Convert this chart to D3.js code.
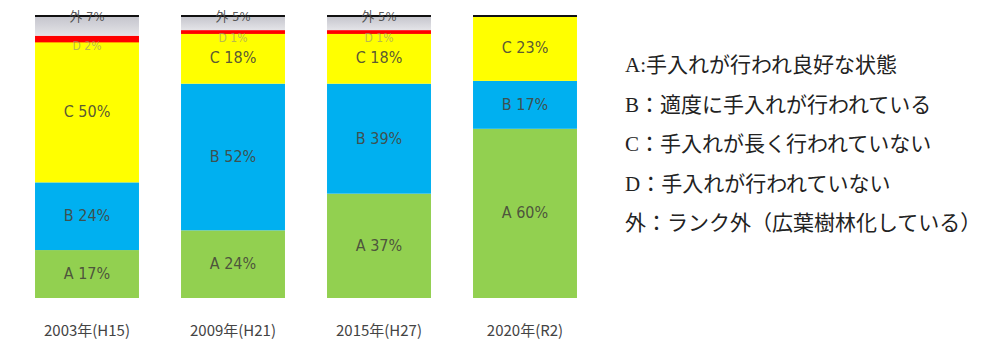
<!DOCTYPE html>
<html><head><meta charset="utf-8">
<script src="https://cdn.jsdelivr.net/npm/d3@7/dist/d3.min.js"></script>
<style>body{margin:0;background:#fff}svg{display:block}</style>
</head><body><div id="chart"></div>
<script>
const categories = ["2003年(H15)", "2009年(H21)", "2015年(H27)", "2020年(R2)"];
const seriesKeys = ["A", "B", "C", "D", "外"];
const valuesA = [17, 24, 37, 60];
const valuesB = [24, 52, 39, 17];
const valuesC = [50, 18, 18, 23];
const valuesD = [2, 1, 1, 0];
const valuesOut = [7, 5, 5, 0];
const legendLabels = [
  "A:手入れが行われ良好な状態",
  "B：適度に手入れが行われている",
  "C：手入れが長く行われていない",
  "D：手入れが行われていない",
  "外：ランク外（広葉樹林化している）"
];

const W = 982, H = 341;
const svg = d3.select("#chart").append("svg").attr("width", W).attr("height", H);
const defs = svg.append("defs");
const g1 = defs.append("linearGradient").attr("id","grayGrad").attr("x1",0).attr("y1",0).attr("x2",0).attr("y2",1);
g1.append("stop").attr("offset","0%").attr("stop-color","#c4c4cc");
g1.append("stop").attr("offset","100%").attr("stop-color","#e4e4e8");

const colors = {A:"#92d050", B:"#00b0f0", C:"#ffff00", D:"#ff0000", "外":"url(#grayGrad)"};

const table = categories.map((c,i)=>({cat:c, A:valuesA[i], B:valuesB[i], C:valuesC[i], D:valuesD[i], "外":valuesOut[i]}));
const stacked = d3.stack().keys(seriesKeys)(table);

const x = d3.scaleBand().domain(categories).range([14, 598]).paddingInner(0.288).paddingOuter(0.144);
const y = d3.scaleLinear().domain([0,100]).range([298,16]);

const layers = svg.append("g").selectAll("g").data(stacked).join("g")
  .attr("fill", d=>colors[d.key]);
layers.selectAll("rect").data(d=>d.map(p=>({p, key:d.key}))).join("rect")
  .attr("x", d=>x(d.p.data.cat))
  .attr("width", x.bandwidth())
  .attr("y", d=>y(d.p[1]))
  .attr("height", d=>Math.max(0, y(d.p[0]) - y(d.p[1])) + (d.key==="D" ? 1 : 0));

// top black line
svg.append("g").selectAll("line").data(categories).join("line")
  .attr("x1", d=>x(d)).attr("x2", d=>x(d)+x.bandwidth())
  .attr("y1", y(100)).attr("y2", y(100))
  .attr("stroke","#111").attr("stroke-width",2);

// segment labels
const labelG = svg.append("g").attr("font-family","'Liberation Sans Narrow','DejaVu Sans Condensed','Noto Sans CJK JP',sans-serif")
  .attr("text-anchor","middle");
stacked.forEach(layer=>{
  layer.forEach(p=>{
    const v = p[1]-p[0];
    if (v <= 0) return;
    let ty, fs = 16;
    if (layer.key === "外") { ty = y(p[1]) + 5; fs = 13; }
    else if (layer.key === "D") { ty = y(p[0]) + 9; fs = 12; }
    else ty = (y(p[0]) + y(p[1]))/2 + 5;
    labelG.append("text")
      .attr("x", x(p.data.cat) + x.bandwidth()/2)
      .attr("y", ty)
      .attr("font-size", fs)
      .attr("fill", layer.key === "外" ? "#444" : (layer.key === "D" ? "#9a9a70" : "#45453a"))
      .attr("fill-opacity", layer.key === "D" ? 0.7 : 0.9)
      .text(layer.key + " " + v + "%");
  });
});

// category labels
svg.append("g").selectAll("text").data(categories).join("text")
  .attr("x", d=>x(d)+x.bandwidth()/2).attr("y", 336)
  .attr("text-anchor","middle")
  .attr("font-family","'Liberation Sans Narrow','Noto Sans CJK JP',sans-serif")
  .attr("font-size",15).attr("fill","#444")
  .text(d=>d);

// legend
svg.append("g").selectAll("text").data(legendLabels).join("text")
  .attr("x", 625).attr("y", (d,i)=>72 + i*39.5)
  .attr("font-family","'Liberation Serif','Noto Sans CJK JP',serif")
  .attr("font-size",21).attr("fill","#222")
  .text(d=>d);
</script></body></html>
